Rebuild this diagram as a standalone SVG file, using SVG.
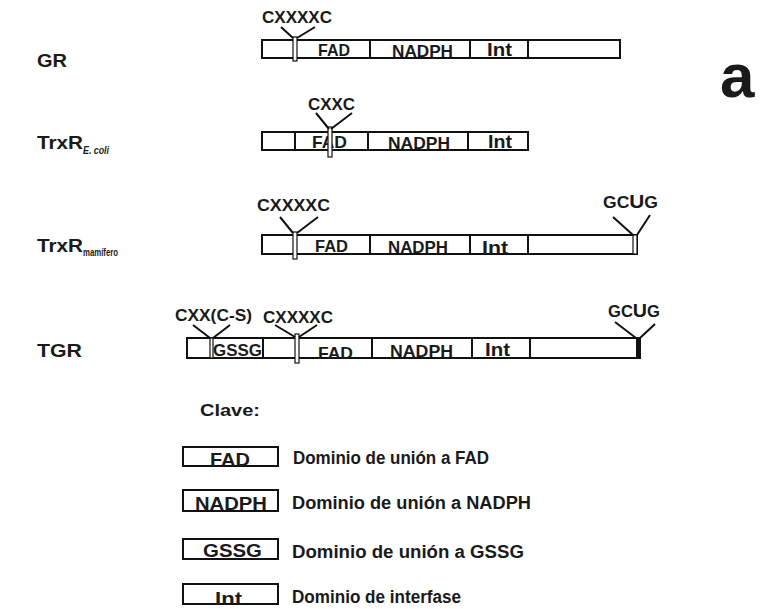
<svg xmlns="http://www.w3.org/2000/svg" width="762" height="609" viewBox="0 0 762 609">
<style>
.t{font-family:"Liberation Sans",Arial,sans-serif;font-weight:bold;fill:#1a1a1a}
.bar{fill:#fff;stroke:#111;stroke-width:2}
.dv{stroke:#111;stroke-width:2}
.mk{fill:#fff;stroke:#111;stroke-width:1.2}
.v{stroke:#111;stroke-width:2;fill:none}
</style>
<rect width="762" height="609" fill="#fff"/>
<g id="GR">
<text class="t" x="37" y="67" font-size="18" textLength="30" lengthAdjust="spacingAndGlyphs">GR</text>
<rect class="bar" x="262" y="40" width="358" height="18"/>
<path class="dv" d="M370,40V58M470,40V58M528,40V58"/>
<rect class="mk" x="293" y="37" width="4" height="24"/>
<text class="t" x="318" y="56" font-size="17" textLength="32" lengthAdjust="spacingAndGlyphs">FAD</text>
<text class="t" x="392" y="57" font-size="17" textLength="61" lengthAdjust="spacingAndGlyphs">NADPH</text>
<text class="t" x="487" y="56" font-size="18" textLength="25" lengthAdjust="spacingAndGlyphs">Int</text>
<text class="t" x="262" y="23" font-size="17" textLength="70" lengthAdjust="spacingAndGlyphs">CXXXXC</text>
</g>
<g id="TrxR_Ecoli">
<text class="t" x="37" y="149" font-size="18"><tspan textLength="46" lengthAdjust="spacingAndGlyphs">TrxR</tspan><tspan font-size="11" font-style="italic" dy="5" textLength="26" lengthAdjust="spacingAndGlyphs">E. coli</tspan></text>
<rect class="bar" x="262" y="132" width="266" height="18"/>
<path class="dv" d="M295,132V150M368,132V150M468,132V150"/>
<text class="t" x="312" y="148" font-size="17" textLength="35" lengthAdjust="spacingAndGlyphs">FAD</text>
<text class="t" x="388" y="149" font-size="17" textLength="62" lengthAdjust="spacingAndGlyphs">NADPH</text>
<text class="t" x="488" y="148" font-size="18" textLength="24" lengthAdjust="spacingAndGlyphs">Int</text>
<rect class="mk" x="328" y="127" width="4" height="30"/>
<text class="t" x="308" y="110" font-size="17" textLength="47" lengthAdjust="spacingAndGlyphs">CXXC</text>
</g>
<g id="TrxR_mamifero">
<text class="t" x="37" y="252" font-size="18"><tspan textLength="46" lengthAdjust="spacingAndGlyphs">TrxR</tspan><tspan font-size="10.5" dy="4" textLength="35" lengthAdjust="spacingAndGlyphs">mamífero</tspan></text>
<rect class="bar" x="262" y="235" width="375" height="19"/>
<path class="dv" d="M370,235V254M470,235V254M528,235V254"/>
<text class="t" x="315" y="252" font-size="17" textLength="33" lengthAdjust="spacingAndGlyphs">FAD</text>
<text class="t" x="388" y="253" font-size="17" textLength="60" lengthAdjust="spacingAndGlyphs">NADPH</text>
<text class="t" x="482" y="254" font-size="18" textLength="26" lengthAdjust="spacingAndGlyphs">Int</text>
<rect class="mk" x="293" y="232" width="4" height="27"/>
<rect class="mk" x="633" y="235" width="4" height="19"/>
<text class="t" x="257" y="211" font-size="17" textLength="73" lengthAdjust="spacingAndGlyphs">CXXXXC</text>
<text class="t" x="603" y="208" font-size="16" textLength="55" lengthAdjust="spacingAndGlyphs">GC<tspan font-size="19">U</tspan>G</text>
</g>
<g id="TGR">
<text class="t" x="37" y="357" font-size="18" textLength="45" lengthAdjust="spacingAndGlyphs">TGR</text>
<rect class="bar" x="187" y="338" width="453" height="20"/>
<path class="dv" d="M263,338V358M372,338V358M472,338V358M530,338V358"/>
<rect class="mk" x="210" y="338" width="3" height="20"/>
<rect x="636" y="338" width="4" height="20" fill="#111"/>
<rect class="mk" x="295" y="334" width="4" height="29"/>
<text class="t" x="213" y="356" font-size="17" textLength="49" lengthAdjust="spacingAndGlyphs">GSSG</text>
<text class="t" x="318" y="359" font-size="17" textLength="35" lengthAdjust="spacingAndGlyphs">FAD</text>
<text class="t" x="390" y="357" font-size="17" textLength="63" lengthAdjust="spacingAndGlyphs">NADPH</text>
<text class="t" x="485" y="356" font-size="18" textLength="25" lengthAdjust="spacingAndGlyphs">Int</text>
<text class="t" x="175" y="321" font-size="17" textLength="77" lengthAdjust="spacingAndGlyphs">CXX(C-S)</text>
<text class="t" x="263" y="323" font-size="17" textLength="70" lengthAdjust="spacingAndGlyphs">CXXXXC</text>
<text class="t" x="608" y="317" font-size="16" textLength="52" lengthAdjust="spacingAndGlyphs">GC<tspan font-size="19">U</tspan>G</text>
</g>
<g id="connectors">
<path class="v" d="M281,27L293,38M315,27L297,38"/>
<path class="v" d="M316,113L329,129M352,113L331,129"/>
<path class="v" d="M280,217L293,233M318,217L297,233M613,217L633,235M650,215L637,235"/>
<path class="v" d="M193,325L210,338M230,325L213,338M275,325L295,337M317,325L299,337M615,322L636,338M655,324L640,338"/>
</g>
<g id="legend">
<text class="t" x="200" y="416" font-size="17" textLength="60" lengthAdjust="spacingAndGlyphs">Clave:</text>
<g id="key_FAD">
<rect class="bar" x="183" y="447" width="95" height="19"/>
<text class="t" x="210" y="466" font-size="19" textLength="40" lengthAdjust="spacingAndGlyphs">FAD</text>
<text class="t" x="293" y="464" font-size="18" textLength="196" lengthAdjust="spacingAndGlyphs">Dominio de unión a FAD</text>
</g>
<g id="key_NADPH">
<rect class="bar" x="183" y="490" width="95" height="21" stroke-width="2.5"/>
<text class="t" x="195" y="510" font-size="19" textLength="72" lengthAdjust="spacingAndGlyphs">NADPH</text>
<text class="t" x="292" y="509" font-size="18" textLength="239" lengthAdjust="spacingAndGlyphs">Dominio de unión a NADPH</text>
</g>
<g id="key_GSSG">
<rect class="bar" x="183" y="539" width="95" height="20"/>
<text class="t" x="203" y="557" font-size="19" textLength="59" lengthAdjust="spacingAndGlyphs">GSSG</text>
<text class="t" x="292" y="558" font-size="18" textLength="232" lengthAdjust="spacingAndGlyphs">Dominio de unión a GSSG</text>
</g>
<g id="key_Int">
<rect class="bar" x="183" y="584" width="95" height="20"/>
<text class="t" x="215" y="605" font-size="19" textLength="27" lengthAdjust="spacingAndGlyphs">Int</text>
<text class="t" x="292" y="603" font-size="18" textLength="169" lengthAdjust="spacingAndGlyphs">Dominio de interfase</text>
</g>
</g>
<g id="panel_label">
<text class="t" x="720" y="97" font-size="62" fill="#000">a</text>
</g>
</svg>
